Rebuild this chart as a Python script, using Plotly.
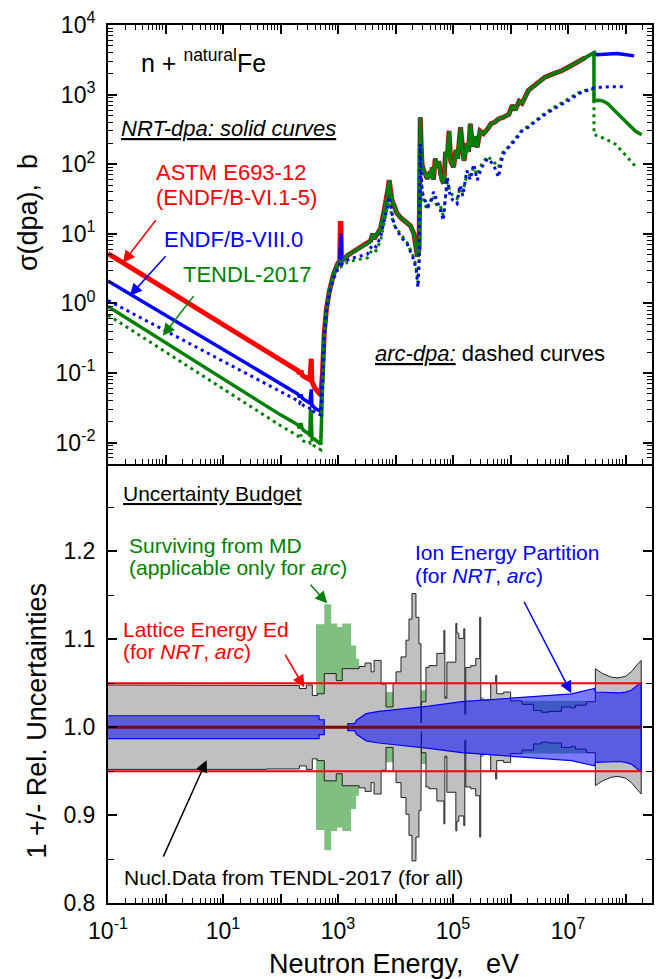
import plotly.graph_objects as go

FONT = "Liberation Sans, Arial, Helvetica, sans-serif"

# ---------------- top panel: damage cross sections (log10 E [eV], sigma [b]) -------------
low_lgE = [-1.0, 0.0, 1.0, 2.0, 2.30, 2.33, 2.355, 2.375, 2.40, 2.51, 2.52, 2.535, 2.545,
           2.60, 2.70, 2.73, 2.76, 2.80, 2.85, 2.92, 3.00, 3.03, 3.04, 3.05, 3.06]
red_low_sig = [5.2, 1.62, 0.50, 0.155, 0.108, 0.098, 0.108, 0.094, 0.090, 0.080, 0.16, 0.16,
               0.075, 0.060, 0.048, 0.10, 0.37, 0.85, 1.5, 2.6, 3.8, 4.0, 14, 14, 4.1]
blue_low_sig = [2.1, 0.68, 0.22, 0.071, 0.05, 0.045, 0.049, 0.044, 0.042, 0.037, 0.058, 0.058,
                0.035, 0.031, 0.028, 0.08, 0.36, 0.85, 1.5, 2.6, 3.8, 4.0, 10, 10, 4.1]
green_low_sig = [0.9, 0.27, 0.082, 0.025, 0.018, 0.016, 0.019, 0.016, 0.015, 0.013, 0.028, 0.028,
                 0.012, 0.011, 0.0095, 0.06, 0.35, 0.85, 1.5, 2.6, 3.8, 4.0, 4.4, 4.4, 4.1]
blue_arc_low_sig = [1.1, 0.40, 0.145, 0.053, 0.040, 0.037, 0.040, 0.036, 0.034, 0.031, 0.045, 0.045,
                    0.029, 0.027, 0.025, 0.07, 0.34, 0.8, 1.4, 2.3, 3.3, 3.5, 9, 9, 3.6]
green_arc_low_sig = [0.68, 0.20, 0.059, 0.0175, 0.0125, 0.0115, 0.013, 0.011, 0.0105, 0.0098, 0.026,
                     0.026, 0.0095, 0.0088, 0.0079, 0.05, 0.33, 0.8, 1.35, 2.2, 3.1, 3.3, 4.0, 4.0, 3.4]

nrt_hi_lgE = [3.10, 3.165, 3.30, 3.45, 3.51, 3.57, 3.60, 3.63, 3.70, 3.74, 3.80, 3.85, 3.87, 3.89,
              3.91, 3.94, 3.98, 4.02, 4.09, 4.18, 4.26, 4.32, 4.35, 4.38, 4.41, 4.42, 4.43, 4.445,
              4.46, 4.49, 4.55, 4.58, 4.61, 4.64, 4.66, 4.69, 4.72, 4.75, 4.78, 4.81, 4.84, 4.87,
              4.90, 4.93, 4.96, 5.01, 5.05, 5.08, 5.13, 5.16, 5.19, 5.24, 5.27, 5.30, 5.34, 5.38,
              5.42, 5.47, 5.53, 5.60, 5.66, 5.72, 5.80, 5.87, 5.97, 6.03, 6.08, 6.15, 6.20, 6.31,
              6.45, 6.60, 6.75, 6.89, 7.05, 7.18, 7.30, 7.45]
nrt_hi_sig = [4.3, 4.9, 5.8, 6.8, 7.2, 8.0, 10, 8.5, 10.5, 12, 21, 32, 45, 59, 40, 30, 25, 20, 17,
              14.5, 13, 10, 6.5, 4.7, 6, 100, 470, 200, 100, 81, 62, 70, 65, 90, 60, 120, 91, 110,
              70, 59, 53, 150, 120, 300, 110, 91, 160, 120, 340, 150, 112, 200, 150, 380, 180, 250,
              175, 300, 275, 320, 380, 400, 450, 470, 520, 700, 600, 800, 750, 1150, 1400, 1780,
              2000, 2200, 2600, 3000, 3400, 4000]

arc_hi_lgE = [3.10, 3.165, 3.30, 3.51, 3.60, 3.66, 3.74, 3.80, 3.85, 3.89, 3.93, 3.97, 4.03, 4.12,
              4.20, 4.32, 4.36, 4.39, 4.41, 4.425, 4.43, 4.445, 4.46, 4.49, 4.55, 4.61, 4.66, 4.72,
              4.78, 4.83, 4.87, 4.90, 4.95, 5.00, 5.07, 5.12, 5.17, 5.24, 5.30, 5.36, 5.42, 5.50,
              5.60, 5.70, 5.79, 5.87, 5.97, 6.08, 6.20, 6.31, 6.45, 6.60, 6.75, 6.89, 7.05, 7.18,
              7.30, 7.41, 7.45]
blue_arc_hi_sig = [3.9, 4.2, 4.6, 5.1, 7, 6.5, 9, 15, 22, 34, 20, 14, 11, 8.5, 7.2, 4.2, 3.0, 1.7, 4,
                   100, 195, 80, 40, 34, 25, 27, 40, 30, 22, 15.5, 40, 65, 35, 30, 27, 50, 35, 81, 60,
                   100, 59, 90, 120, 100, 65, 140, 175, 220, 300, 340, 420, 520, 620, 720, 860, 1030,
                   1130, 1230, 1250]
green_arc_hi_sig = [3.6, 3.9, 4.2, 4.5, 6, 5.7, 8, 14, 21, 33, 19, 13.5, 11.5, 9, 7.5, 4.5, 3.3, 2.0, 4,
                    90, 180, 90, 45, 30, 22, 30, 35, 25, 25, 18, 35, 55, 40, 35, 32, 45, 40, 70, 70,
                    90, 70, 100, 130, 110, 90, 150, 180, 230, 310, 350, 430, 540, 650, 760, 900, 1060,
                    1150, 1200, 1200]

blue_tail_lgE = [7.50, 7.60, 7.70, 7.76, 7.85, 7.95, 8.05, 8.15]
blue_tail_sig = [3750, 3800, 3880, 3900, 3880, 3800, 3700, 3600]
green_tail_lgE = [7.451, 7.55, 7.62, 7.70, 7.80, 7.93, 8.05, 8.17, 8.28]
green_tail_sig = [820, 830, 800, 730, 600, 470, 370, 300, 265]
blue_arc_tail_lgE = [7.55, 7.65, 7.76, 7.90, 8.02]
blue_arc_tail_sig = [1270, 1290, 1300, 1300, 1290]
green_arc_tail_lgE = [7.451, 7.53, 7.65, 7.82, 7.95, 8.08, 8.19]
green_arc_tail_sig = [265, 255, 230, 195, 150, 115, 90]

# ---------------- bottom panel: relative uncertainties (half-widths) ----------------------
gray_edges_lgE = [-1.0, 1.756, 2.328, 2.449, 2.553, 2.640, 2.761, 2.969, 3.073, 3.367, 3.471, 3.575,
                  3.627, 3.749, 3.835, 3.957, 4.009, 4.095, 4.182, 4.234, 4.286, 4.355, 4.407, 4.442,
                  4.45, 4.529, 4.581, 4.719, 4.841, 4.858, 4.893, 5.049, 5.066, 5.101, 5.187, 5.205,
                  5.222, 5.308, 5.395, 5.464, 5.482, 5.655, 5.742, 5.76, 5.880, 6.002, 6.2, 6.4,
                  6.539, 6.660, 6.886, 7.059, 7.128, 7.319, 7.475]
gray_step_unc = [0.048, 0.0475, 0.044, 0.048, 0.036, 0.038, 0.061, 0.053, 0.0666, 0.069, 0.073,
                 0.063, 0.076, 0.049, 0.023, 0.050, 0.063, 0.080, 0.099, 0.123, 0.152, 0.125, 0.095,
                 0.005, 0.029, 0.068, 0.070, 0.084, 0.110, 0.033, 0.074, 0.118, 0.107, 0.101, 0.112,
                 0.015, 0.068, 0.070, 0.078, 0.125, 0.031, 0.050, 0.059, 0.038, 0.040, 0.030, 0.026,
                 0.019, 0.017, 0.018, 0.023, 0.022, 0.025, 0.029]
gray_tail_lgE = [7.475, 7.6, 7.75, 7.87, 8.0, 8.1, 8.2, 8.272]
gray_tail_unc = [0.0666, 0.061, 0.057, 0.056, 0.058, 0.063, 0.071, 0.076]

green_edges_lgE = [2.617, 2.761, 2.882, 2.986, 3.073, 3.229, 3.315, 3.367, 3.835, 3.957, 4.442,
                   4.529, 4.858, 4.893, 5.482, 5.534, 7.319]
green_step_unc = [0.117, 0.140, 0.118, 0.114, 0.118, 0.093, 0.078, 0.045, 0.040, 0.030, 0.042,
                  0.030, 0.036, 0.030, 0.034, 0.030]

blue_band_lgE = [-1.0, 2.67, 2.67, 2.76, 2.76, 3.17, 3.17, 3.29, 3.32, 3.40, 3.49, 3.71, 4.0, 4.58,
                 5.15, 5.85, 7.06, 7.46, 7.475, 7.9, 8.0, 8.1, 8.2, 8.272]
blue_band_unc = [0.013, 0.013, 0.0085, 0.0085, 0.0, 0.0, 0.004, 0.004, 0.008, 0.012, 0.0155, 0.018,
                 0.020, 0.024, 0.029, 0.0326, 0.038, 0.044, 0.040, 0.039, 0.040, 0.042, 0.047, 0.051]

lattice_unc = 0.05
band_span_lgE = [-1.0, 8.272]

# x tick labels
x_decades = list(range(-1, 9))


def E(lg):
    return [10 ** v for v in lg]


def steps(edges, vals):
    xs, ys = [], []
    for i, v in enumerate(vals):
        xs += [edges[i], edges[i + 1]]
        ys += [v, v]
    return xs, ys


def band(lgx, d):
    xs = E(lgx) + E(lgx[::-1])
    ys = [1 + v for v in d] + [1 - v for v in d[::-1]]
    return xs, ys


fig = go.Figure()

# ---- bottom panel
gx, gd = steps(green_edges_lgE, green_step_unc)
bx, by = band(gx, gd)
fig.add_trace(go.Scatter(x=bx, y=by, fill="toself", fillcolor="rgba(0,128,0,0.5)",
                         line=dict(width=0), mode="lines", xaxis="x", yaxis="y"))
nx, nd = steps(gray_edges_lgE, gray_step_unc)
nx += gray_tail_lgE
nd += gray_tail_unc
bx, by = band(nx, nd)
fig.add_trace(go.Scatter(x=bx, y=by, fill="toself", fillcolor="#c0c0c0",
                         line=dict(width=1, color="#222222"), mode="lines", xaxis="x", yaxis="y"))
bx, by = band(blue_band_lgE, blue_band_unc)
fig.add_trace(go.Scatter(x=bx, y=by, fill="toself", fillcolor="rgba(0,0,255,0.52)",
                         line=dict(width=1.2, color="#0000ff"), mode="lines", xaxis="x", yaxis="y"))
for s in (1, -1):
    fig.add_trace(go.Scatter(x=E(band_span_lgE), y=[1 + s * lattice_unc] * 2, mode="lines",
                             line=dict(color="#ff0000", width=2), xaxis="x", yaxis="y"))
fig.add_trace(go.Scatter(x=E(band_span_lgE), y=[1, 1], mode="lines",
                         line=dict(color="#800000", width=3), xaxis="x", yaxis="y"))

# ---- top panel
DOT = "3px,4px"
fig.add_trace(go.Scatter(x=E(low_lgE + nrt_hi_lgE[:-1]), y=red_low_sig + nrt_hi_sig[:-1],
                         mode="lines", line=dict(color="#ff0000", width=5), xaxis="x2", yaxis="y2"))
fig.add_trace(go.Scatter(x=E(low_lgE + nrt_hi_lgE + blue_tail_lgE),
                         y=blue_low_sig + nrt_hi_sig + blue_tail_sig,
                         mode="lines", line=dict(color="#0000ff", width=3.5), xaxis="x2", yaxis="y2"))
fig.add_trace(go.Scatter(x=E(low_lgE + nrt_hi_lgE + green_tail_lgE),
                         y=green_low_sig + nrt_hi_sig + green_tail_sig,
                         mode="lines", line=dict(color="#008000", width=3.5), xaxis="x2", yaxis="y2"))
fig.add_trace(go.Scatter(x=E(low_lgE + arc_hi_lgE + green_arc_tail_lgE),
                         y=green_arc_low_sig + green_arc_hi_sig + green_arc_tail_sig,
                         mode="lines", line=dict(color="#008000", width=3, dash=DOT),
                         xaxis="x2", yaxis="y2"))
fig.add_trace(go.Scatter(x=E(low_lgE + arc_hi_lgE + blue_arc_tail_lgE),
                         y=blue_arc_low_sig + blue_arc_hi_sig + blue_arc_tail_sig,
                         mode="lines", line=dict(color="#0000ff", width=3, dash=DOT),
                         xaxis="x2", yaxis="y2"))

# ---------------- layout ----------------
W, H = 662, 979
ML, MR, MT, MB = 108, 8, 24, 76
PW, PH = W - ML - MR, H - MT - MB
split = 440 / PH

xt_vals = [10 ** k for k in x_decades]
xt_text = [f"10<sup>{k}</sup>" if k % 2 == 1 else "" for k in x_decades]
x_minor = [m * 10 ** k for k in x_decades for m in range(2, 10) if m * 10 ** k < 2.8e8]
y2_decades = list(range(-2, 5))
y2_vals = [10 ** k for k in y2_decades]
y2_text = [f"10<sup>{k}</sup>" for k in y2_decades]
y2_minor = [m * 10 ** k for k in range(-3, 4) for m in range(2, 10) if 0.005 <= m * 10 ** k <= 1e4]

axis_common = dict(showline=True, linecolor="black", linewidth=2, ticks="inside", ticklen=9,
                   tickwidth=1.5, tickcolor="black", showgrid=False, zeroline=False,
                   tickfont=dict(family=FONT, size=23, color="black"))
minor_common = dict(ticks="inside", ticklen=5, tickwidth=1.2, tickcolor="black", showgrid=False)

fig.update_layout(
    width=W, height=H, margin=dict(l=ML, r=MR, t=MT, b=MB), autosize=False,
    paper_bgcolor="white", plot_bgcolor="white", showlegend=False,
    font=dict(family=FONT, color="black"),
    xaxis=dict(axis_common, type="log", range=[-1, 8.46], domain=[0, 1], anchor="y",
               tickvals=xt_vals, ticktext=xt_text, ticklabelstandoff=6,
               minor=dict(minor_common, tickvals=x_minor)),
    xaxis2=dict(axis_common, type="log", range=[-1, 8.46], domain=[0, 1], anchor="y2", matches="x",
                tickvals=xt_vals, showticklabels=False, mirror="ticks",
                minor=dict(minor_common, tickvals=x_minor)),
    yaxis=dict(axis_common, range=[0.8, 1.3], domain=[0, split], anchor="x", mirror="ticks",
               tickvals=[0.8, 0.9, 1.0, 1.1, 1.2], ticktext=["0.8", "0.9", "1.0", "1.1", "1.2"],
               tickfont=dict(family=FONT, size=23, color="black"), ticklabelstandoff=6,
               minor=dict(minor_common, ticklen=6, tickvals=[0.85, 0.95, 1.05, 1.15, 1.25])),
    yaxis2=dict(axis_common, type="log", range=[-2.30103, 4], domain=[split, 1], anchor="x2",
                mirror="ticks", tickvals=y2_vals, ticktext=y2_text, ticklabelstandoff=6,
                minor=dict(minor_common, tickvals=y2_minor)),
)


def pp(px, py):
    return (px - ML) / PW, (MT + PH - py) / PH


def label(text, px, py, color="black", size=21, anchor="left", angle=0):
    x, y = pp(px, py)
    fig.add_annotation(x=x, y=y, xref="paper", yref="paper", text=text, showarrow=False,
                       xanchor=anchor, yanchor="middle", textangle=angle,
                       font=dict(family=FONT, size=size, color=color))


def arrow(tail, head, color):
    x, y = pp(*head)
    fig.add_annotation(x=x, y=y, xref="paper", yref="paper", text="", showarrow=True,
                       ax=tail[0] - head[0], ay=tail[1] - head[1], arrowhead=2, arrowsize=1.6,
                       arrowwidth=1.5, arrowcolor=color)


# axis titles
label("σ(dpa),  b", 27, 212, size=27, anchor="center", angle=-90)
label("1 +/- Rel. Uncertainties", 37, 721, size=27, anchor="center", angle=-90)
label("Neutron Energy,   eV", 395, 964, size=27, anchor="center")

# top panel texts
label("n + <sup>natural</sup>Fe", 139, 60, size=25)
label("<i><u>NRT-dpa: solid curves</u></i>", 119, 128, size=22)
label("ASTM E693-12", 154, 172, color="#ff0000", size=22)
label("(ENDF/B-VI.1-5)", 154, 197, color="#ff0000", size=22)
label("ENDF/B-VIII.0", 162, 239, color="#0000ff", size=22)
label("TENDL-2017", 181, 274, color="#008000", size=22)
label("<i><u>arc-dpa:</u></i> dashed curves", 374, 353, size=22)
arrow((157, 218), (123, 262), "#ff0000")
arrow((167, 254), (130, 295), "#0000ff")
arrow((195, 294), (163, 335), "#008000")

# bottom panel texts
label("<u>Uncertainty Budget</u>", 121, 493, size=21)
label("Surviving from MD", 127, 545, color="#008000", size=21)
label("(applicable only for <i>arc</i>)", 127, 567, color="#008000", size=21)
label("Lattice Energy Ed", 121, 629, color="#ff0000", size=21)
label("(for <i>NRT</i>, <i>arc</i>)", 121, 651, color="#ff0000", size=21)
label("Ion Energy Partition", 414, 552, color="#0000ff", size=21)
label("(for <i>NRT</i>, <i>arc</i>)", 414, 575, color="#0000ff", size=21)
label("Nucl.Data from TENDL-2017 (for all)", 122, 877, size=21)
arrow((310, 583), (328, 603), "#008000")
arrow((285, 653), (305, 687), "#ff0000")
arrow((525, 600), (573, 693), "#0000ff")
arrow((163, 858), (207, 760), "black")

fig.write_html("out.html")
